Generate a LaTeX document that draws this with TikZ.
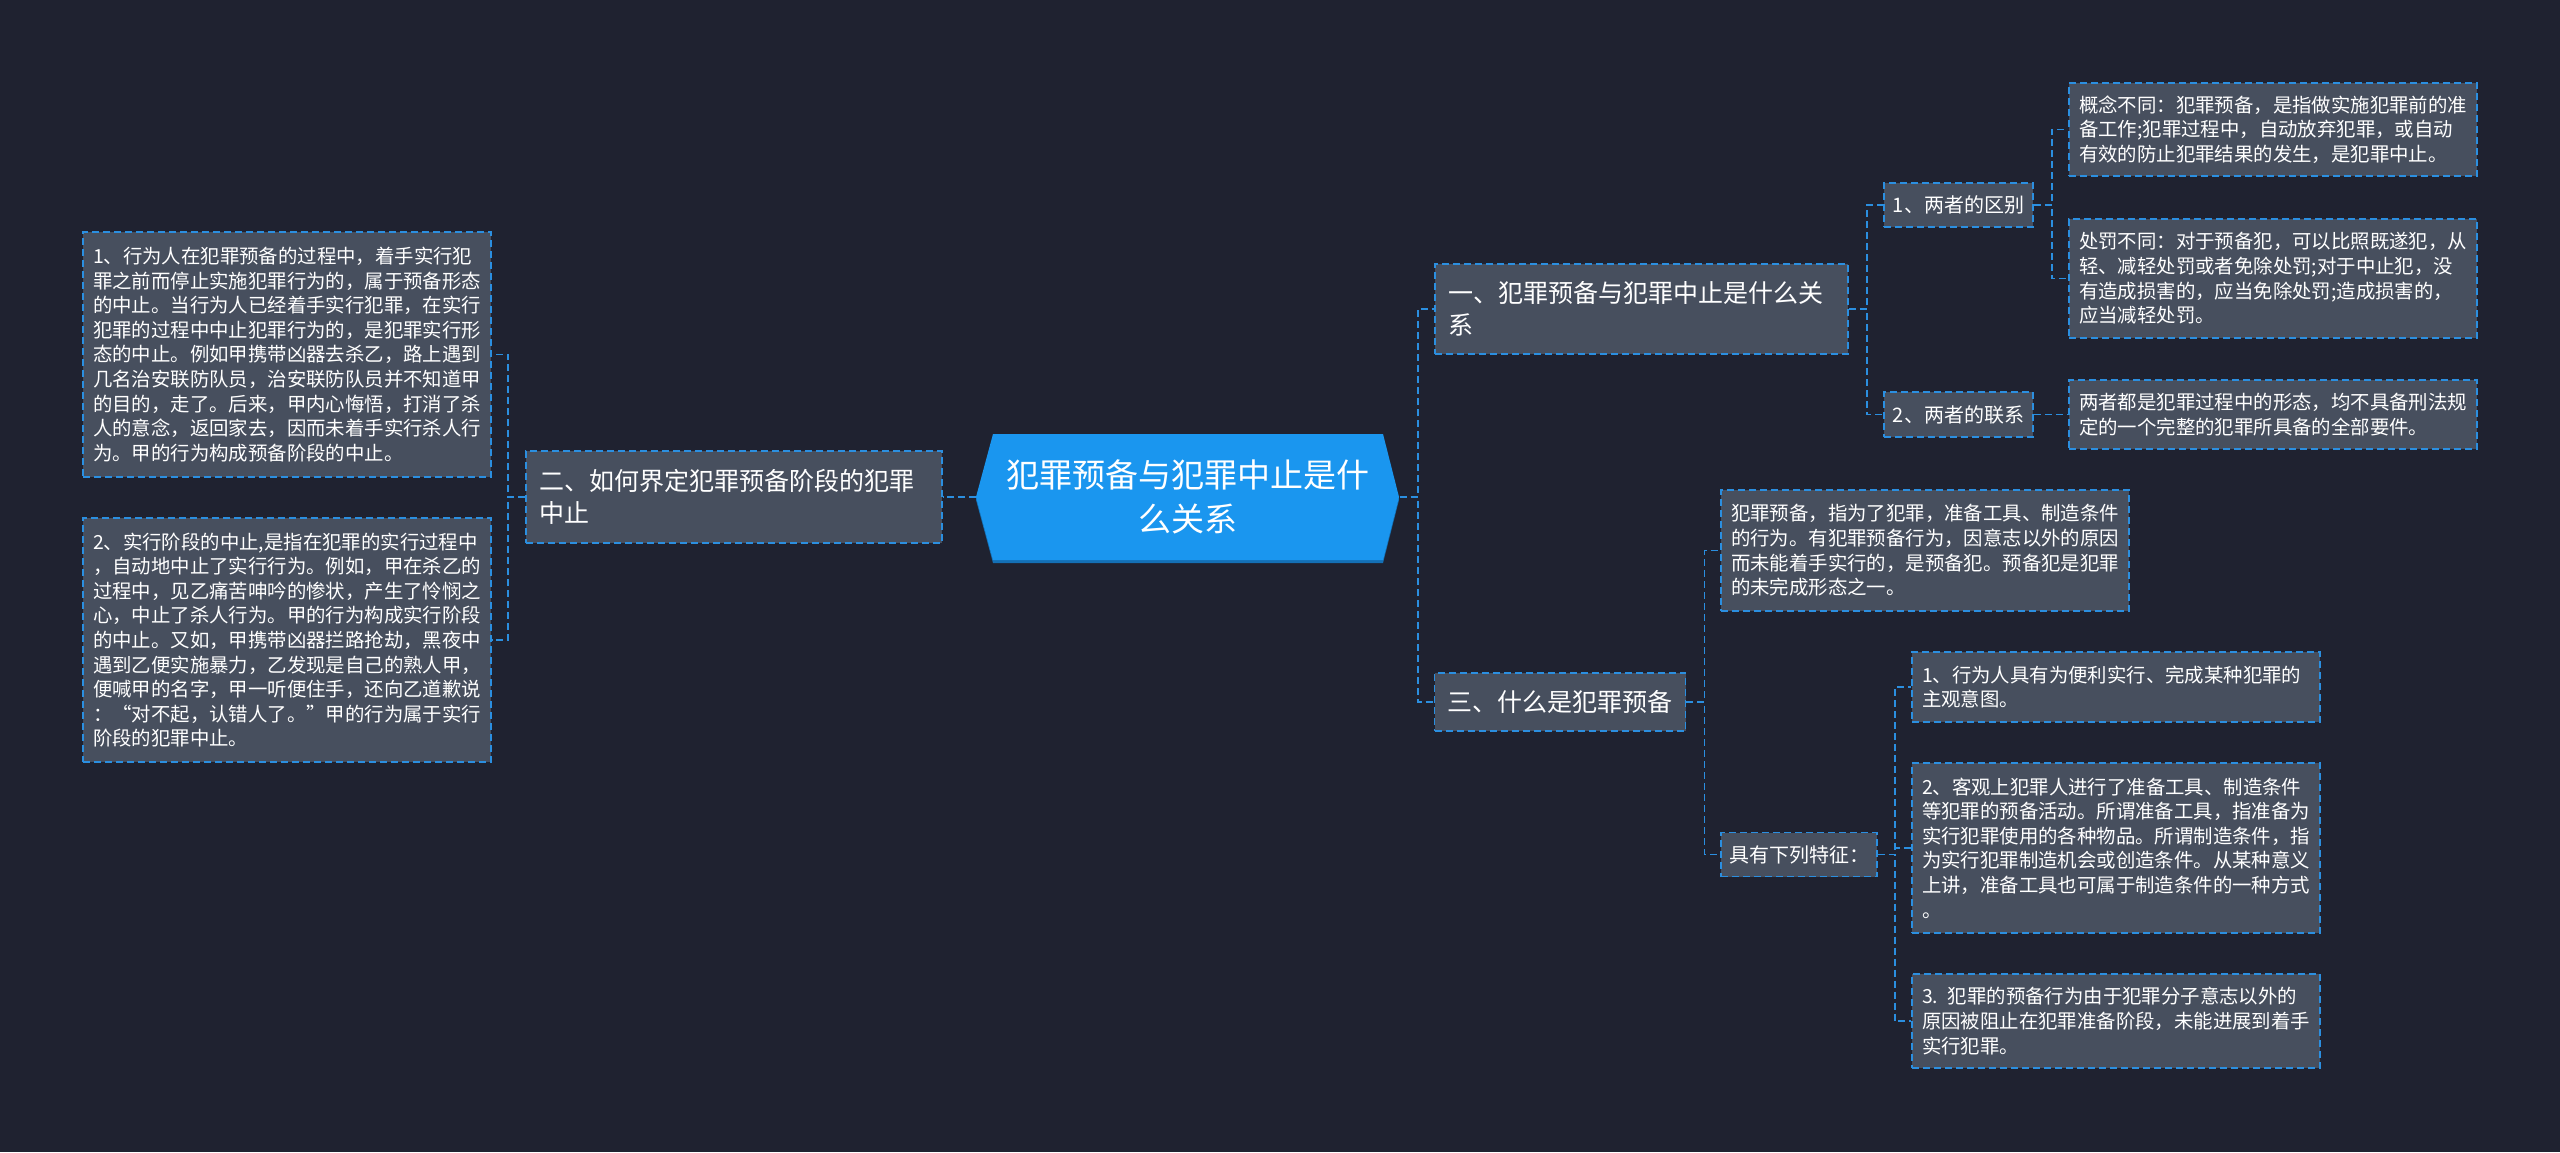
\documentclass[tikz,border=0pt]{standalone}
\usepackage{fontspec}
\setmainfont{Noto Sans CJK SC}
\usetikzlibrary{calc}
\definecolor{bg}{HTML}{1F2230}
\definecolor{boxfill}{HTML}{474F5E}
\definecolor{lineblue}{HTML}{2B8FE0}
\definecolor{rootblue}{HTML}{1A96EF}
\definecolor{rootshadow}{HTML}{1470B5}
\begin{document}
\begin{tikzpicture}[x=1pt,y=-1pt,
  box/.style={draw=lineblue, fill=boxfill, dash pattern=on 7pt off 4pt, line width=1.8pt, text=white, inner xsep=10pt, inner ysep=0pt},
  leaf/.style={box, text width=388pt, align=left, font=\fontsize{19.4}{24.6}\selectfont, minimum width=408pt},
  subnode/.style={box, font=\fontsize{20}{25}\selectfont, inner xsep=8pt},
  branch/.style={box, font=\fontsize{25}{32}\selectfont, inner xsep=13pt, align=left},
  rootnode/.style={minimum width=423pt, minimum height=126pt, inner sep=0pt, align=center, text=white, font=\fontsize{33}{44}\selectfont},
  link/.style={draw=lineblue, dash pattern=on 7pt off 4pt, line width=1.8pt}]
\fill[bg] (0,0) rectangle (2560,1152);
\useasboundingbox (0,0) rectangle (2560,1152);

% root
\coordinate (rc) at (1188,497);
\fill[rootshadow] ($(rc)+(-195,-60)$) -- ($(rc)+(195,-60)$) -- ($(rc)+(211,3)$) -- ($(rc)+(195,66)$) -- ($(rc)+(-195,66)$) -- ($(rc)+(-212,3)$) -- cycle;
\fill[rootblue] ($(rc)+(-195,-63)$) -- ($(rc)+(195,-63)$) -- ($(rc)+(211,0)$) -- ($(rc)+(195,63)$) -- ($(rc)+(-195,63)$) -- ($(rc)+(-212,0)$) -- cycle;
\node[rootnode] (root) at (rc) {犯罪预备与犯罪中止是什\\么关系};

% left side
\node[branch, text width=390pt, minimum width=416pt, minimum height=92pt] (lb) at (734,497) {二、如何界定犯罪预备阶段的犯罪\\中止};
\node[leaf, minimum height=245pt] (l1) at (287,354.5) {1、行为人在犯罪预备的过程中，着手实行犯\\罪之前而停止实施犯罪行为的，属于预备形态\\的中止。当行为人已经着手实行犯罪，在实行\\犯罪的过程中中止犯罪行为的，是犯罪实行形\\态的中止。例如甲携带凶器去杀乙，路上遇到\\几名治安联防队员，治安联防队员并不知道甲\\的目的，走了。后来，甲内心悔悟，打消了杀\\人的意念，返回家去，因而未着手实行杀人行\\为。甲的行为构成预备阶段的中止。};
\node[leaf, minimum height=244pt] (l2) at (287,640) {2、实行阶段的中止,是指在犯罪的实行过程中\\，自动地中止了实行行为。例如，甲在杀乙的\\过程中，见乙痛苦呻吟的惨状，产生了怜悯之\\心，中止了杀人行为。甲的行为构成实行阶段\\的中止。又如，甲携带凶器拦路抢劫，黑夜中\\遇到乙便实施暴力，乙发现是自己的熟人甲，\\便喊甲的名字，甲一听便住手，还向乙道歉说\\：“对不起，认错人了。”甲的行为属于实行\\阶段的犯罪中止。};

% right side
\node[branch, text width=387pt, minimum width=413pt, minimum height=90pt] (b1) at (1641.5,309) {一、犯罪预备与犯罪中止是什么关\\系};
\node[branch, minimum width=250pt, minimum height=58pt] (b3) at (1560,702) {三、什么是犯罪预备};
\node[subnode, minimum width=149pt, minimum height=44pt] (s1) at (1958.5,205) {1、两者的区别};
\node[subnode, minimum width=149pt, minimum height=45pt] (s2) at (1958.5,414.5) {2、两者的联系};
\node[leaf, minimum height=93pt] (c1) at (2273,129.5) {概念不同：犯罪预备，是指做实施犯罪前的准\\备工作;犯罪过程中，自动放弃犯罪，或自动\\有效的防止犯罪结果的发生，是犯罪中止。};
\node[leaf, minimum height=119pt] (c2) at (2273,278.5) {处罚不同：对于预备犯，可以比照既遂犯，从\\轻、减轻处罚或者免除处罚;对于中止犯，没\\有造成损害的，应当免除处罚;造成损害的，\\应当减轻处罚。};
\node[leaf, minimum height=69pt] (c3) at (2273,414.5) {两者都是犯罪过程中的形态，均不具备刑法规\\定的一个完整的犯罪所具备的全部要件。};
\node[leaf, minimum height=121pt] (d1) at (1925,550.5) {犯罪预备，指为了犯罪，准备工具、制造条件\\的行为。有犯罪预备行为，因意志以外的原因\\而未能着手实行的，是预备犯。预备犯是犯罪\\的未完成形态之一。};
\node[subnode, minimum width=156pt, minimum height=44pt] (tz) at (1799,854.5) {具有下列特征：};
\node[leaf, minimum height=70pt] (f1) at (2116,687) {1、行为人具有为便利实行、完成某种犯罪的\\主观意图。};
\node[leaf, minimum height=170pt] (f2) at (2116,848) {2、客观上犯罪人进行了准备工具、制造条件\\等犯罪的预备活动。所谓准备工具，指准备为\\实行犯罪使用的各种物品。所谓制造条件，指\\为实行犯罪制造机会或创造条件。从某种意义\\上讲，准备工具也可属于制造条件的一种方式\\。};
\node[leaf, minimum height=94pt] (f3) at (2116,1021) {3. 犯罪的预备行为由于犯罪分子意志以外的\\原因被阻止在犯罪准备阶段，未能进展到着手\\实行犯罪。};

% connectors
\draw[link] (root.west) -- (lb.east);
\draw[link] (lb.west) -- ++(-17,0) |- (l1.east);
\draw[link] (lb.west) -- ++(-17,0) |- (l2.east);
\draw[link] (root.east) -- ++(18,0) |- (b1.west);
\draw[link] (root.east) -- ++(18,0) |- (b3.west);
\draw[link] (b1.east) -- ++(18,0) |- (s1.west);
\draw[link] (b1.east) -- ++(18,0) |- (s2.west);
\draw[link] (s1.east) -- ++(18,0) |- (c1.west);
\draw[link] (s1.east) -- ++(18,0) |- (c2.west);
\draw[link] (s2.east) -- (c3.west);
\draw[link] (b3.east) -- ++(18,0) |- (d1.west);
\draw[link] (b3.east) -- ++(18,0) |- (tz.west);
\draw[link] (tz.east) -- ++(17,0) |- (f1.west);
\draw[link] (tz.east) -- ++(17,0) |- (f2.west);
\draw[link] (tz.east) -- ++(17,0) |- (f3.west);
\end{tikzpicture}
\end{document}
